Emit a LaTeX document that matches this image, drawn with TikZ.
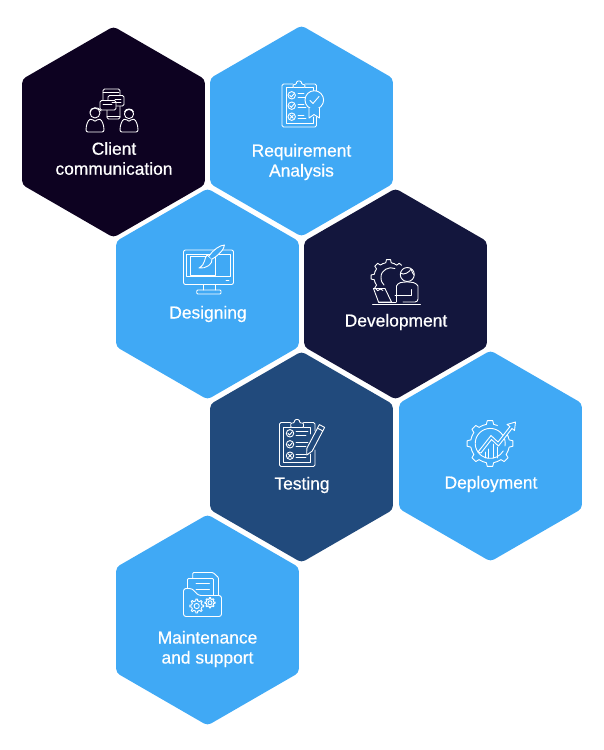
\documentclass[tikz,border=0pt]{standalone}
\usepackage{fontspec}
\setmainfont[FakeBold=0.6]{Liberation Sans}
\usetikzlibrary{shapes.geometric}
\definecolor{hexblue}{HTML}{40A9F5}
\definecolor{hexblack}{HTML}{0D0221}
\definecolor{hexnavy}{HTML}{13163D}
\definecolor{hexsteel}{HTML}{214A7C}
\tikzset{
  hexa/.style={regular polygon,regular polygon sides=6,shape border rotate=30,minimum size=211pt,inner sep=0pt,outer sep=0pt,rounded corners=4pt,fill=#1},
  caption/.style={text=white,align=center,font=\fontsize{17.4}{20}\selectfont,inner sep=0pt},
  icon/.style={draw=white,line width=0.9pt,line join=round,line cap=round}
}
% center, root radius, tip radius, step, angles
\newcommand{\gearteeth}[5]{
  \begin{scope}[shift={#1}]
  \foreach \a in {#5}
    \draw[icon] ({\a-.5*#4}:#2) -- ({\a-.24*#4}:#2) -- ({\a-.15*#4}:#3) -- ({\a+.15*#4}:#3) -- ({\a+.24*#4}:#2) -- ({\a+.5*#4}:#2);
  \end{scope}
}
\begin{document}
\begin{tikzpicture}[x=1pt,y=-1pt]
\useasboundingbox (0,0) rectangle (604,750);

\node[hexa=hexblack] (client) at (113.5,132) {};
\node[hexa=hexblue] (require) at (301.5,131) {};
\node[hexa=hexblue] (design) at (207.5,294) {};
\node[hexa=hexnavy] (develop) at (395.5,294) {};
\node[hexa=hexsteel] (testing) at (301.5,457) {};
\node[hexa=hexblue] (deploy) at (490.5,456) {};
\node[hexa=hexblue] (maintain) at (207.5,620) {};

\node[caption] (clientlab) at (114,158.5) {Client\\communication};
\node[caption] (requirelab) at (301.5,162) {Requirement\\Analysis};
\node[caption] (designlab) at (208,314) {Designing};
\node[caption] (developlab) at (396,322) {Development};
\node[caption] (testinglab) at (302,485) {Testing};
\node[caption] (deploylab) at (491,484) {Deployment};
\node[caption] (maintainlab) at (207.5,649) {Maintenance\\and support};

% client
\draw[icon,rounded corners=1.5pt] (103,100) -- (103,89) -- (120,89) -- (120,95);
\draw[icon,rounded corners=1.5pt] (107,110) -- (107,119) -- (120,119) -- (120,106);
\draw[icon] (103,92) -- (119,92) (107,116) -- (120,116);
\draw[icon,rounded corners=1.5pt,fill=hexblack] (108,95.5) rectangle (124,106);
\draw[icon,rounded corners=1.5pt,fill=hexblack] (100,100.5) rectangle (116,110);
\draw[icon] (115,99) -- (121,99) (103,104) -- (112,104) (112,102) -- (121,102);
\draw[icon] (95,113) circle (5);
\draw[icon] (129,114) circle (4.6);
\draw[icon] (90,112) .. controls (90,107) and (99,106) .. (101,111);
\draw[icon] (124.5,112) .. controls (125,108) and (133,108) .. (133.5,112);
\draw[icon,rounded corners=2pt] (86,132) .. controls (86,125) and (88,120) .. (92,118.5) -- (95,122) -- (98,118.5) .. controls (102,120) and (104,125) .. (104,132) -- cycle;
\draw[icon,rounded corners=2pt] (120,132) .. controls (120,125) and (122,120) .. (126,118.5) -- (129,122) -- (132,118.5) .. controls (136,120) and (138,125) .. (138,132) -- cycle;

% requirement
\draw[icon,rounded corners=1.5pt] (305,84) -- (316.5,84) -- (316.5,91);
\draw[icon,rounded corners=1.5pt] (316.5,110) -- (316.5,127) -- (282,127) -- (282,84) -- (293,84);
\draw[icon] (313,91) -- (313,87.5) -- (305,87.5) (293,87.5) -- (286,87.5) -- (286,123) -- (313,123) -- (313,117);
\draw[icon,rounded corners=1pt] (293,87.5) -- (293,84.5) -- (296,84.5) -- (297,81) -- (301,81) -- (302,84.5) -- (305,84.5) -- (305,87.5) -- cycle;
\foreach \y in {95.3,105.7,116.7} {
  \draw[icon] (291.7,\y) circle (3.7);
  \draw[icon] (298,\y-1.7) -- (304,\y-1.7) (298,\y+1.7) -- (306,\y+1.7);
}
\draw[icon] (289.8,95.3) -- (291.3,97) -- (294,93.8) (289.8,105.7) -- (291.3,107.4) -- (294,104.2) (290,115) -- (293.4,118.4) (293.4,115) -- (290,118.4);
\draw[icon,fill=hexblue] (314.3,100) circle (9.3);
\draw[icon] (310,100.5) -- (313,103.5) -- (319,96.5);
\draw[icon,fill=hexblue] (309,108.2) -- (309,118) -- (314,114.5) -- (319.5,118) -- (319.5,108.2);

% designing
\draw[icon,rounded corners=2pt] (183.5,250) rectangle (233.5,284.5);
\draw[icon] (186.7,254) rectangle (230,276.7);
\draw[icon] (190.7,256.7) rectangle (215,275.7);
\draw[icon] (226,280.5) -- (229,280.5);
\draw[icon] (203,284.5) -- (203,290) (215,284.5) -- (215,290);
\draw[icon,rounded corners=1pt] (196.7,290) rectangle (221,294);
\draw[icon,fill=hexblue] (207,255) .. controls (204,258) and (206,264) .. (199,268) .. controls (206,269) and (213,264) .. (212,259) -- cycle;
\draw[icon,fill=hexblue] (209,256) .. controls (213,250) and (220,245) .. (224.5,245) .. controls (224.5,249) and (218,256) .. (212,259);

% development
\gearteeth{(388.5,277)}{14.5}{17.5}{45}{-135,180,135,-90}
\begin{scope}[shift={(388.5,277)}]
\draw[icon] (-45-22.5:14.5) -- (-45-10:14.5) -- (-45-7:17.5) -- (-45+3:17.5);
\end{scope}
\draw[icon] (395,268.5) .. controls (389,266) and (381,270) .. (381,277) .. controls (381,281) and (382,283) .. (384,285);
\draw[icon] (407.3,274.5) circle (7);
\draw[icon] (400.5,273) .. controls (403,276) and (410,272) .. (411,269) .. controls (412,272) and (413,274) .. (414,275);
\draw[icon,rounded corners=3pt] (396.5,302) -- (396.5,289) .. controls (396.5,285) and (399,283) .. (403,282) -- (411,282) .. controls (415,283) and (418,285) .. (418,289) -- (418,302) -- (403,302);
\draw[icon] (395,295.5) -- (411.5,295.5) -- (411.5,289.5);
\draw[icon] (373.5,288.5) -- (385,288.5) -- (391.5,302) -- (378.5,302) -- cycle;
\draw[icon] (378.5,302) -- (396,302);
\draw[icon] (372.5,304.5) -- (420.5,304.5);

% testing
\draw[icon,rounded corners=1.5pt] (303.5,422.5) -- (315,422.5) -- (315,431) (315,450) -- (315,466.5) -- (279.5,466.5) -- (279.5,422.5) -- (290.5,422.5);
\draw[icon] (310.7,434) -- (310.7,427.5) -- (303.5,427.5) (290.7,427.5) -- (283.3,427.5) -- (283.3,462.7) -- (310.7,462.7) -- (310.7,454);
\draw[icon,rounded corners=1pt] (290.7,427.5) -- (290.7,423) -- (294,423) -- (295,419.5) -- (299,419.5) -- (300,423) -- (303.5,423) -- (303.5,427.5) -- cycle;
\foreach \y in {433.3,444.3,455.7} {
  \draw[icon] (290,\y) circle (3.7);
  \draw[icon] (296,\y-1.7) -- (308,\y-1.7) (296,\y+1.7) -- (306,\y+1.7);
}
\draw[icon] (288,433.3) -- (289.5,435) -- (292.2,431.8) (288,444.3) -- (289.5,446) -- (292.2,442.8) (288.3,454) -- (291.7,457.4) (291.7,454) -- (288.3,457.4);
\draw[icon,fill=hexsteel] (324.65,427.4) -- (319.35,424.6) -- (306.85,448.3) -- (306.7,455) -- (312.15,451.1) -- cycle;
\draw[icon] (322.75,430.9) -- (317.45,428.1);

% deployment
\gearteeth{(490,443.5)}{19.5}{23}{45}{-90,-135,180,135,90,45,0}
\begin{scope}[shift={(490,443.5)}]
\draw[icon] (-22.5:19.5) -- (-35:19.5);
\end{scope}
\draw[icon] (505,446) arc[start angle=10,end angle=-330,radius=15] ;
\draw[icon,fill=hexblue] (478,452) -- (491,435.5) -- (498,442) -- (510,426.5) -- (507,424.5) -- (515.5,422) -- (514.5,430.5) -- (512,428.5) -- (498.5,446) -- (491.5,439.5) -- (481,453) -- cycle;
\draw[icon] (485,452) -- (485,458) (488,449) -- (488,458) (493,444) -- (493,458) (497,447) -- (497,458);

% maintenance
\draw[icon,rounded corners=1pt] (192.7,578.5) -- (192.7,572.5) -- (213,572.5) -- (218.5,577.5) -- (218.5,595);
\draw[icon,rounded corners=1pt] (187.5,588) -- (187.5,578.5) -- (213.5,578.5) -- (213.5,595);
\draw[icon] (196,583.5) -- (209.5,583.5) (196,589.5) -- (209.5,589.5);
\draw[icon,fill=hexblue,rounded corners=2.5pt] (183.5,588.5) -- (192,588.5) -- (198.5,595.5) -- (221.5,595.5) -- (221.5,616.5) -- (183.5,616.5) -- cycle;
\gearteeth{(196.7,606)}{5.2}{7}{45}{0,45,90,135,180,-135,-90,-45}
\draw[icon] (196.7,606) circle (2.6);
\gearteeth{(210,602.7)}{3.8}{5.2}{45}{0,45,90,135,180,-135,-90,-45}
\draw[icon] (210,602.7) circle (2);

\end{tikzpicture}
\end{document}
